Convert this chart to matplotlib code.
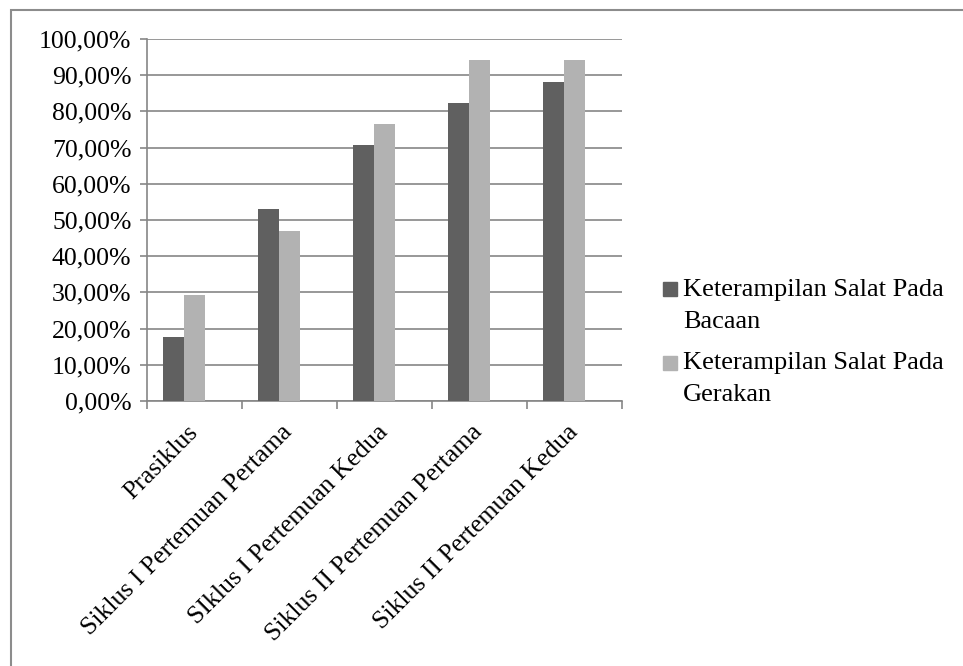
import matplotlib
matplotlib.use("Agg")
import matplotlib.pyplot as plt
from matplotlib.patches import Rectangle
from matplotlib.ticker import FuncFormatter, FixedLocator
import numpy as np

categories = [
    "Prasiklus",
    "Siklus I Pertemuan Pertama",
    "SIklus I Pertemuan Kedua",
    "Siklus II Pertemuan Pertama",
    "Siklus II Pertemuan Kedua",
]
series_names = [
    "Keterampilan Salat Pada\nBacaan",
    "Keterampilan Salat Pada\nGerakan",
]
bacaan = [17.65, 52.94, 70.59, 82.35, 88.24]
gerakan = [29.41, 47.06, 76.47, 94.12, 94.12]
series_colors = ["#606060", "#b2b2b2"]

plt.rcParams["font.family"] = ["Liberation Serif", "DejaVu Serif"]
FS = 18.5
FS_LEG = 19

fig = plt.figure(figsize=(9.63, 6.66), dpi=100)
ax = fig.add_axes([146.7 / 963, 1 - 401 / 666, 475 / 963, 362 / 666])

x = np.arange(len(categories))
w = 0.221
shift = 0.105
ax.bar(x - w / 2, bacaan, width=w, color=series_colors[0], zorder=3)
ax.bar(x + w / 2, gerakan, width=w, color=series_colors[1], zorder=3)

ax.set_xlim(-0.5 + shift, len(categories) - 0.5 + shift)
ax.set_ylim(0, 100)

grid_c = "#868686"
ax.set_yticks(np.arange(0, 101, 10))
ax.yaxis.set_major_formatter(FuncFormatter(lambda v, p: f"{v:.2f}".replace(".", ",") + "%"))
ax.grid(axis="y", color=grid_c, linewidth=1.2, zorder=0)
ax.tick_params(axis="y", length=5, width=1.2, color=grid_c, labelsize=FS, pad=6)

# category labels sit at the centre of each category slot
ax.set_xticks(x + shift)
ax.set_xticklabels(categories, rotation=45, ha="right", va="center",
                   rotation_mode="anchor", fontsize=FS)
ax.tick_params(axis="x", length=0, pad=20)
ax.xaxis.set_minor_locator(FixedLocator(np.arange(len(categories) + 1) - 0.5 + shift))
ax.tick_params(axis="x", which="minor", length=6, width=1.2, color=grid_c)

for s in ["top", "right"]:
    ax.spines[s].set_visible(False)
for s in ["left", "bottom"]:
    ax.spines[s].set_color(grid_c)
    ax.spines[s].set_linewidth(1.2)

# legend: square marker beside a two-line label
leg_x = 663 / 963
leg_baselines = [296.5, 369.5]
line_gap = 31.5
for name, col, base in zip(series_names, series_colors, leg_baselines):
    fig.add_artist(Rectangle((leg_x, 1 - base / 666), 14 / 963, 14 / 666,
                             transform=fig.transFigure, color=col))
    for k, line in enumerate(name.split("\n")):
        fig.text(683 / 963, 1 - (base + k * line_gap) / 666, line,
                 fontsize=FS_LEG, va="baseline", ha="left")

# outer frame
fig.add_artist(Rectangle((11 / 963, -0.05), 1.0, 1 - 9.5 / 666 + 0.05,
                         transform=fig.transFigure, fill=False,
                         edgecolor="#8c8c8c", linewidth=1.5))

fig.savefig("out.png", dpi=100)
